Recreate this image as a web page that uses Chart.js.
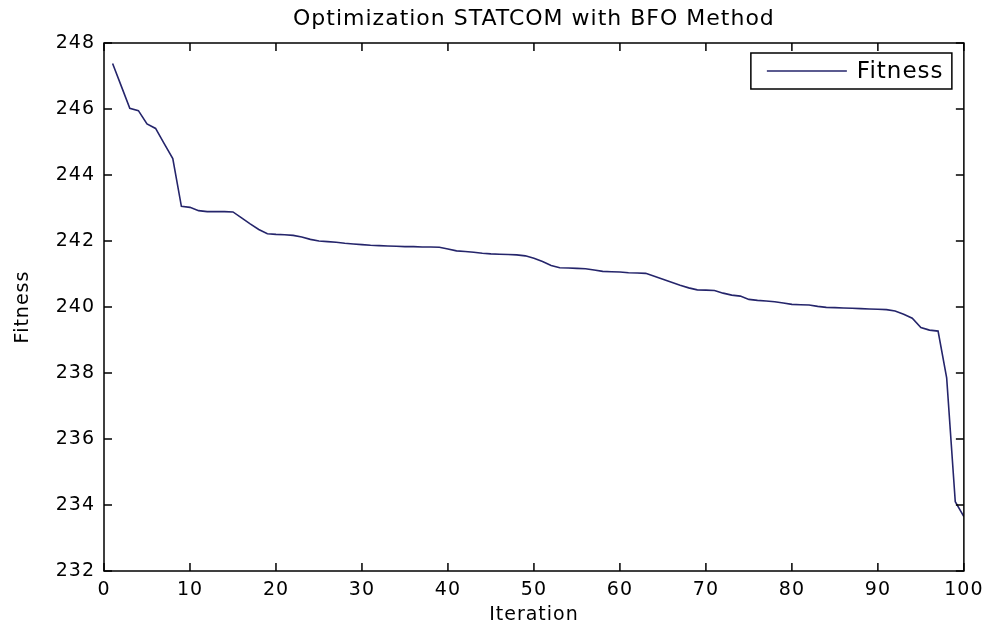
<html>
  <head>
    <meta charset="utf-8" />
    <title>Optimization STATCOM with BFO Method</title>
    <style>
      body { margin: 0; background: #fff; }
    </style>
  </head>
  <body>
    <div style="width: 990px; height: 625px">
      <canvas id="canvasLine" width="990" height="625"></canvas>
    </div>

    <script src="https://cdn.jsdelivr.net/npm/chart.js"></script>
    <script>
      // x: iteration number
      var iterations = [
        1, 2, 3, 4, 5, 6, 7, 8, 9, 10,
        11, 12, 13, 14, 15, 16, 17, 18, 19, 20,
        21, 22, 23, 24, 25, 26, 27, 28, 29, 30,
        31, 32, 33, 34, 35, 36, 37, 38, 39, 40,
        41, 42, 43, 44, 45, 46, 47, 48, 49, 50,
        51, 52, 53, 54, 55, 56, 57, 58, 59, 60,
        61, 62, 63, 64, 65, 66, 67, 68, 69, 70,
        71, 72, 73, 74, 75, 76, 77, 78, 79, 80,
        81, 82, 83, 84, 85, 86, 87, 88, 89, 90,
        91, 92, 93, 94, 95, 96, 97, 98, 99, 100
      ];
      // y: best fitness at each iteration
      var fitness = [
        247.38, 246.70, 246.02, 245.95, 245.55, 245.41, 244.95, 244.50, 243.05, 243.02,
        242.92, 242.89, 242.89, 242.89, 242.88, 242.70, 242.52, 242.35, 242.22, 242.20,
        242.19, 242.17, 242.12, 242.05, 242.00, 241.98, 241.96, 241.93, 241.91, 241.89,
        241.87, 241.86, 241.85, 241.84, 241.83, 241.83, 241.82, 241.82, 241.81, 241.76,
        241.70, 241.68, 241.66, 241.63, 241.61, 241.60, 241.59, 241.58, 241.55, 241.48,
        241.38, 241.26, 241.19, 241.18, 241.17, 241.16, 241.12, 241.08, 241.07, 241.06,
        241.04, 241.03, 241.02, 240.93, 240.84, 240.75, 240.66, 240.58, 240.52, 240.51,
        240.50, 240.42, 240.36, 240.33, 240.23, 240.20, 240.18, 240.16, 240.12, 240.08,
        240.07, 240.06, 240.02, 239.99, 239.98, 239.97, 239.96, 239.95, 239.94, 239.93,
        239.92, 239.88, 239.78, 239.66, 239.38, 239.30, 239.27, 237.85, 234.10, 233.65
      ];
      var xTicks = [0, 10, 20, 30, 40, 50, 60, 70, 80, 90, 100];
      var yTicks = [232, 234, 236, 238, 240, 242, 244, 246, 248];

      var lineColor = "#25256b";
      var tickFont = { family: "DejaVu Sans", size: 19 };

      // matlab style box: border, inward ticks on all sides, boxed legend
      var matlabBox = {
        id: "matlabBox",
        beforeDraw: function (chart) {
          // the old figure font is set a bit looser than DejaVu
          chart.ctx.letterSpacing = "1px";
        },
        afterDatasetsDraw: function (chart) {
          var ctx = chart.ctx;
          var a = chart.chartArea;
          var sx = chart.scales.x;
          var sy = chart.scales.y;
          var len = 8;
          ctx.save();
          ctx.strokeStyle = "#000";
          ctx.lineWidth = 1.5;
          ctx.beginPath();
          sx.ticks.forEach(function (t) {
            var px = sx.getPixelForValue(t.value);
            ctx.moveTo(px, a.bottom);
            ctx.lineTo(px, a.bottom - len);
            ctx.moveTo(px, a.top);
            ctx.lineTo(px, a.top + len);
          });
          sy.ticks.forEach(function (t) {
            var py = sy.getPixelForValue(t.value);
            ctx.moveTo(a.left, py);
            ctx.lineTo(a.left + len, py);
            ctx.moveTo(a.right, py);
            ctx.lineTo(a.right - len, py);
          });
          ctx.stroke();
          ctx.strokeRect(a.left, a.top, a.right - a.left, a.bottom - a.top);

          // legend
          var ds = chart.data.datasets[0];
          var bw = 201, bh = 36;
          var bx = a.right - 12 - bw;
          var by = a.top + 10;
          ctx.fillStyle = "#fff";
          ctx.fillRect(bx, by, bw, bh);
          ctx.strokeRect(bx, by, bw, bh);
          ctx.strokeStyle = ds.borderColor;
          ctx.lineWidth = 1.6;
          ctx.beginPath();
          ctx.moveTo(bx + 16, by + bh / 2);
          ctx.lineTo(bx + 96, by + bh / 2);
          ctx.stroke();
          ctx.fillStyle = "#000";
          ctx.font = "23px 'DejaVu Sans'";
          ctx.textBaseline = "middle";
          ctx.textAlign = "left";
          ctx.fillText(ds.label, bx + 106, by + bh / 2 + 1);
          ctx.restore();
        },
      };

      var points = iterations.map(function (it, i) {
        return { x: it, y: fitness[i] };
      });

      var ctx = document.getElementById("canvasLine").getContext("2d");
      var lineChart = new Chart(ctx, {
        type: "line",
        data: {
          datasets: [
            {
              label: "Fitness",
              data: points,
              borderColor: lineColor,
              backgroundColor: lineColor,
              borderWidth: 1.6,
              pointRadius: 0,
              tension: 0,
              fill: false,
            },
          ],
        },
        options: {
          responsive: false,
          animation: false,
          layout: { padding: { left: 0, right: 24, top: 0, bottom: 0 } },
          plugins: {
            legend: { display: false },
            tooltip: { enabled: false },
            title: {
              display: true,
              fullSize: false,
              text: "Optimization STATCOM with BFO Method",
              color: "#000",
              font: { family: "DejaVu Sans", size: 22, weight: "normal", lineHeight: 1 },
              padding: { top: 8, bottom: 13 },
            },
          },
          scales: {
            x: {
              type: "linear",
              min: xTicks[0],
              max: xTicks[xTicks.length - 1],
              afterBuildTicks: function (s) {
                s.ticks = xTicks.map(function (v) { return { value: v }; });
              },
              afterFit: function (s) { s.height = 54; },
              grid: { display: false, drawTicks: false },
              border: { display: false },
              ticks: { color: "#000", font: tickFont, padding: 8, maxRotation: 0 },
              title: {
                display: true,
                text: "Iteration",
                color: "#000",
                font: { family: "DejaVu Sans", size: 19, lineHeight: 1 },
                padding: { top: 0, bottom: 0 },
              },
            },
            y: {
              type: "linear",
              min: yTicks[0],
              max: yTicks[yTicks.length - 1],
              afterBuildTicks: function (s) {
                s.ticks = yTicks.map(function (v) { return { value: v }; });
              },
              afterFit: function (s) { s.width = 104; },
              grid: { display: false, drawTicks: false },
              border: { display: false },
              ticks: { color: "#000", font: tickFont, padding: 9 },
              title: {
                display: true,
                text: "Fitness",
                color: "#000",
                font: { family: "DejaVu Sans", size: 19, lineHeight: 1.2 },
                padding: { top: 12, bottom: 0 },
              },
            },
          },
        },
        plugins: [matlabBox],
      });
    </script>
  </body>
</html>
